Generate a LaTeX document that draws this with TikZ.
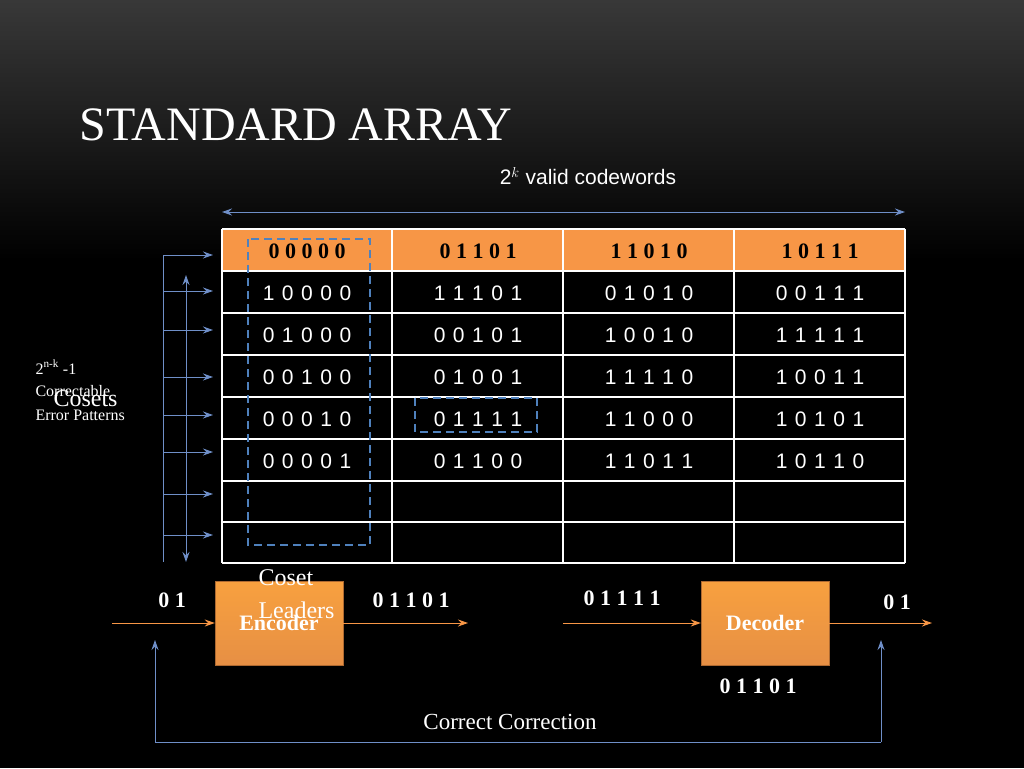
\documentclass[tikz,border=0pt]{standalone}
\usepackage{fontspec}
\setmainfont{Liberation Serif}
\newfontfamily\tsans[LetterSpace=8]{Liberation Sans}
\newfontfamily\psans{Liberation Sans}
\usetikzlibrary{arrows.meta}
\definecolor{myor}{HTML}{F79646}
\definecolor{myblue}{HTML}{4F81BD}
\definecolor{arrblue}{HTML}{6F8FC8}
\begin{document}
\begin{tikzpicture}[x=1pt,y=-1pt,
  cell/.style={font=\tsans\fontsize{21}{24}\selectfont,text=white},
  hcell/.style={font=\bfseries\fontsize{22}{24}\selectfont,text=black},
  barr/.style={draw=arrblue,-{Stealth[length=10pt,width=7pt]},line width=1pt},
  oarr/.style={draw=myor,-{Stealth[length=10pt,width=7pt]},line width=1pt},
  wt/.style={text=white,font=\fontsize{20}{24}\selectfont},
  box/.style={draw=myor!70!black,top color=myor!90!yellow,bottom color=myor!70!brown,minimum width=128pt,minimum height=84pt,inner sep=0pt,font=\bfseries\fontsize{22}{24}\selectfont,text=white}]
\useasboundingbox (0,0) rectangle (1024,768);
\shade[top color=black!78,bottom color=black] (0,0) rectangle (1024,260);
\fill[black] (0,260) rectangle (1024,768);
\node[anchor=west,text=white,font=\fontsize{48}{52}\selectfont] (title) at (76,125) {STANDARD ARRAY};
\node[text=white,font=\psans\fontsize{21}{24}\selectfont] (tk) at (588,176) {2$^{k}$ valid codewords};
\coordinate (tl) at (222,212); \coordinate (tr) at (905,212);
\draw[draw=arrblue,{Stealth[length=10pt,width=7pt]}-{Stealth[length=10pt,width=7pt]},line width=1pt] (tl) -- (tr);
% table
\fill[myor] (222,229) rectangle (905,271);
\foreach \y in {229,271,313,355,397,439,481,522,563} \draw[white,line width=1.2pt] (222,\y) -- (905,\y);
\foreach \x in {222,392,563,734,905} \draw[white,line width=1.2pt] (\x,229) -- (\x,563);
\foreach \t [count=\i] in {0 0 0 0 0,0 1 1 0 1,1 1 0 1 0,1 0 1 1 1}
  \node[hcell] (h\i) at ({222+171*(\i-1)+85},251) {\t};
\foreach \r/\a/\b/\c/\d [count=\j] in {1/1 0 0 0 0/1 1 1 0 1/0 1 0 1 0/0 0 1 1 1,2/0 1 0 0 0/0 0 1 0 1/1 0 0 1 0/1 1 1 1 1,3/0 0 1 0 0/0 1 0 0 1/1 1 1 1 0/1 0 0 1 1,4/0 0 0 1 0/0 1 1 1 1/1 1 0 0 0/1 0 1 0 1,5/0 0 0 0 1/0 1 1 0 0/1 1 0 1 1/1 0 1 1 0} {
  \node[cell] (c\j a) at (307,{293+42*(\j-1)}) {\a};
  \node[cell] (c\j b) at (478,{293+42*(\j-1)}) {\b};
  \node[cell] (c\j c) at (649,{293+42*(\j-1)}) {\c};
  \node[cell] (c\j d) at (820,{293+42*(\j-1)}) {\d};
}
\draw[myblue,line width=2pt,dash pattern=on 8pt off 5pt] (248,239) rectangle (370,545);
\draw[myblue,line width=2pt,dash pattern=on 8pt off 5pt] (415,398) rectangle (537,432);
% left arrows
\draw[arrblue,line width=1pt] (163,255) -- (163,562);
\foreach \y in {255,291,330,377,415,452,494,535} \draw[barr] (163,\y) -- (213,\y);
\draw[draw=arrblue,{Stealth[length=10pt,width=7pt]}-{Stealth[length=10pt,width=7pt]},line width=1pt] (186,275) -- (186,562);
\node[anchor=west,text=white,font=\fontsize{16}{18}\selectfont] (nk) at (32,367) {2\textsuperscript{n-k} -1};
\node[anchor=west,text=white,font=\fontsize{16}{18}\selectfont] (corr) at (32,391) {Correctable};
\node[anchor=west,text=white,font=\fontsize{16}{18}\selectfont] (err) at (32,415) {Error Patterns};
\node[anchor=west,text=white,font=\fontsize{24}{26}\selectfont] (cos) at (50,399) {Cosets};
% encoder / decoder
\node[box] (enc) at (279,623) {Encoder};
\node[box] (dec) at (765,623) {Decoder};
\node[anchor=west,wt,align=left,font=\fontsize{24}{33}\selectfont] (cl) at (255,594) {Coset\\Leaders};
\coordinate (in) at (112,623); \coordinate (eo) at (468,623);
\coordinate (di) at (563,623); \coordinate (out) at (932,623);
\draw[oarr] (in) -- (enc.west);
\draw[oarr] (enc.east) -- (eo);
\draw[oarr] (di) -- (dec.west);
\draw[oarr] (dec.east) -- (out);
\node[wt,font=\bfseries\fontsize{22}{24}\selectfont] (l1) at (172,600) {0 1};
\node[wt,font=\bfseries\fontsize{22}{24}\selectfont] (l2) at (411,600) {0 1 1 0 1};
\node[wt,font=\bfseries\fontsize{22}{24}\selectfont] (l3) at (622,598) {0 1 1 1 1};
\node[wt,font=\bfseries\fontsize{22}{24}\selectfont] (l4) at (897,602) {0 1};
\node[wt,font=\bfseries\fontsize{22}{24}\selectfont] (l5) at (758,686) {0 1 1 0 1};
\coordinate (fa) at (155,640); \coordinate (fb) at (881,640);
\coordinate (fa2) at (155,742); \coordinate (fb2) at (881,742);
\draw[arrblue,line width=1pt] (fa2) -- (fb2);
\draw[barr] (fa2) -- (fa);
\draw[barr] (fb2) -- (fb);
\node[wt,font=\fontsize{23}{24}\selectfont] (cc) at (510,722) {Correct Correction};
\end{tikzpicture}
\end{document}
